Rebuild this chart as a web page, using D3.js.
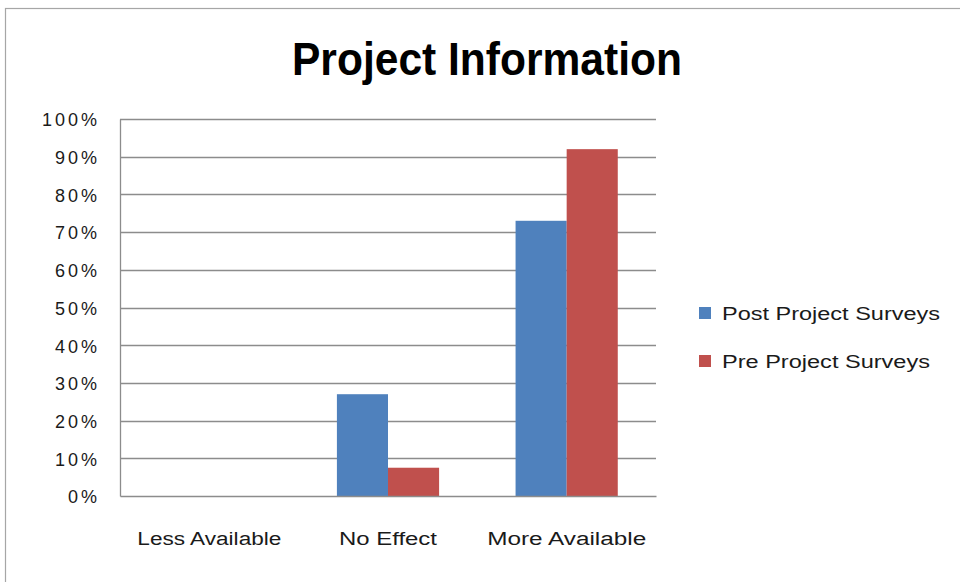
<!DOCTYPE html>
<html><head><meta charset="utf-8">
<script src="https://cdn.jsdelivr.net/npm/d3@7/dist/d3.min.js"></script>
<style>body{margin:0;background:#fff;}svg{display:block;}</style>
</head><body>
<svg id="chart" width="960" height="582"></svg>
<script>
const title = "Project Information";
const categories = ["Less Available", "No Effect", "More Available"];
const seriesNames = ["Post Project Surveys", "Pre Project Surveys"];
const postValues = [0, 0.27, 0.73];
const preValues = [0, 0.075, 0.92];
const yTicks = [0, 0.1, 0.2, 0.3, 0.4, 0.5, 0.6, 0.7, 0.8, 0.9, 1.0];
const colors = ["#4F81BD", "#C0504D"];

const svg = d3.select("#chart");
const font = "'Liberation Sans', Arial, sans-serif";

// outer chart border
svg.append("rect").attr("x", 5.5).attr("y", 8.5).attr("width", 1000).attr("height", 1000)
  .attr("fill", "none").attr("stroke", "#a6a6a6").attr("stroke-width", 1.2);

const plot = {left: 120, right: 656, top: 119, bottom: 496};
const x0 = d3.scaleBand().domain(categories).range([plot.left, plot.right]).padding(0);
const x1 = d3.scaleBand().domain(seriesNames).range([0, x0.bandwidth() * 0.572]).padding(0);
const y = d3.scaleLinear().domain([0, 1]).range([plot.bottom, plot.top]);

// gridlines
svg.append("g").selectAll("line").data(yTicks.filter(d => d > 0)).join("line")
  .attr("x1", plot.left).attr("x2", plot.right)
  .attr("y1", d => Math.round(y(d)) + 0.5).attr("y2", d => Math.round(y(d)) + 0.5)
  .attr("stroke", "#8c8c8c").attr("stroke-width", 1.3);

// bars
const data = categories.map((c, i) => ({cat: c, vals: [postValues[i], preValues[i]]}));
const groupOffset = (x0.bandwidth() - x1.range()[1]) / 2;
svg.append("g").selectAll("g").data(data).join("g")
  .attr("transform", d => `translate(${x0(d.cat) + groupOffset},0)`)
  .selectAll("rect").data(d => d.vals.map((v, j) => ({v, s: seriesNames[j], j})))
  .join("rect")
  .attr("x", d => x1(d.s)).attr("width", x1.bandwidth())
  .attr("y", d => y(d.v)).attr("height", d => y(0) - y(d.v))
  .attr("fill", d => colors[d.j]);

// axes
const yAxis = d3.axisLeft(y).tickValues(yTicks).tickFormat(d3.format(".0%")).tickSize(0).tickPadding(20);
const gy = svg.append("g").attr("transform", `translate(${plot.left},0)`).call(yAxis);
gy.select(".domain").attr("stroke", "#8c8c8c").attr("stroke-width", 1.3);
gy.selectAll("text").attr("font-family", font).attr("font-size", 18).attr("fill", "#1a1a1a")
  .attr("letter-spacing", "3px").attr("dy", "0.38em");

const xAxis = d3.axisBottom(x0).tickSize(0).tickPadding(36);
const gx = svg.append("g").attr("transform", `translate(0,${plot.bottom})`).call(xAxis);
gx.select(".domain").attr("stroke", "#8c8c8c").attr("stroke-width", 1.3);
const catWidths = [144, 98, 159];
gx.selectAll("text").attr("font-family", font).attr("font-size", 18).attr("fill", "#1a1a1a")
  .attr("textLength", (d, i) => catWidths[i]).attr("lengthAdjust", "spacingAndGlyphs");

// title
svg.append("text").attr("x", 487).attr("y", 75).attr("text-anchor", "middle")
  .attr("font-family", font).attr("font-weight", "bold").attr("font-size", 46)
  .attr("textLength", 390).attr("lengthAdjust", "spacingAndGlyphs")
  .text(title);

// legend
const legendWidths = [218, 208];
const lg = svg.append("g").selectAll("g").data(seriesNames).join("g")
  .attr("transform", (d, i) => `translate(699,${307 + i * 48})`);
lg.append("rect").attr("width", 12).attr("height", 12).attr("fill", (d, i) => colors[i]);
lg.append("text").attr("x", 23).attr("y", 13).attr("font-family", font).attr("font-size", 18)
  .attr("fill", "#1a1a1a")
  .attr("textLength", (d, i) => legendWidths[i]).attr("lengthAdjust", "spacingAndGlyphs")
  .text(d => d);
</script>
</body></html>
